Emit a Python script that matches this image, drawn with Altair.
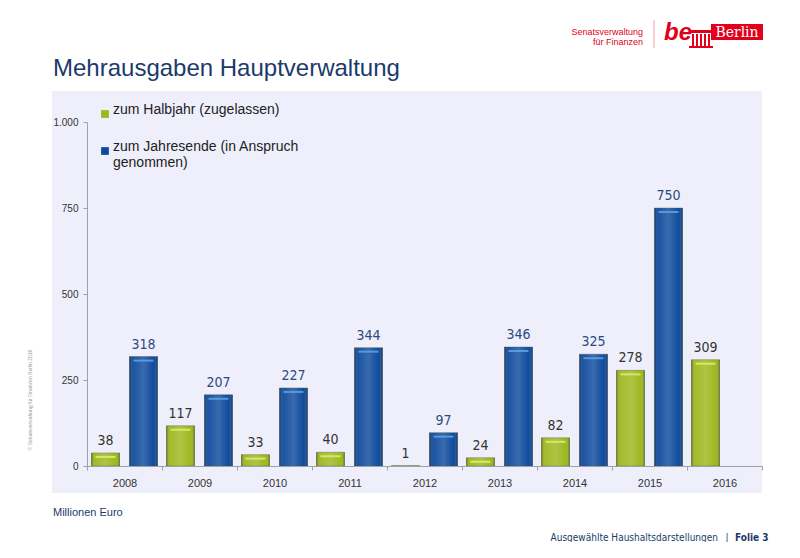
import altair as alt
import pandas as pd

years = ["2008", "2009", "2010", "2011", "2012", "2013", "2014", "2015", "2016"]
halbjahr = [38, 117, 33, 40, 1, 24, 82, 278, 309]
jahresende = [318, 207, 227, 344, 97, 346, 325, 750, None]
series_names = ["zum Halbjahr (zugelassen)", "zum Jahresende (in Anspruch genommen)"]
series_colors = ["#9db71e", "#0e4a9c"]
label_colors = ["#333333", "#2a4b80"]
y_ticks = [0, 250, 500, 750, 1000]

rows = []
for i, yr in enumerate(years):
    if halbjahr[i] is not None:
        rows.append({"Jahr": yr, "Reihe": series_names[0], "Wert": halbjahr[i]})
    if jahresende[i] is not None:
        rows.append({"Jahr": yr, "Reihe": series_names[1], "Wert": jahresende[i]})
df = pd.DataFrame(rows)

W, H = 675, 344
FONT = "Liberation Sans, Arial, sans-serif"
NARROW = "Liberation Sans Narrow, Arial Narrow, DejaVu Sans Condensed, Liberation Sans, Arial, sans-serif"

x_enc = alt.X("Jahr:N", sort=years, scale=alt.Scale(paddingInner=0, paddingOuter=0),
              axis=alt.Axis(title=None, labelAngle=0, tickBand="extent", domainColor="#a0a0a8",
                            tickColor="#a0a0a8", tickSize=4, labelFontSize=11, labelColor="#333333",
                            labelFont=FONT, labelPadding=7, zindex=1))
xo_enc = alt.XOffset("Reihe:N", sort=series_names,
                     scale=alt.Scale(domain=series_names, paddingInner=0.263, paddingOuter=0.118))
y_enc = alt.Y("Wert:Q", scale=alt.Scale(domain=[0, 1000], nice=False),
              axis=alt.Axis(title=None, values=y_ticks, grid=False, domainColor="#a0a0a8",
                            tickColor="#a0a0a8", tickSize=4, labelFontSize=10, labelColor="#333333",
                            labelFont=FONT, labelPadding=5, zindex=1,
                            labelExpr="replace(datum.label, ',', '.')"))

one = pd.DataFrame({"k": [0]})

panel = alt.Chart(one).mark_rect(color="#efeffb").encode(
    x=alt.value(-35), x2=alt.value(675), y=alt.value(-31), y2=alt.value(371))

bars = alt.Chart(df).mark_bar(stroke="#3a4a20", strokeWidth=0.6, strokeOpacity=0.6).encode(
    x=x_enc, xOffset=xo_enc, y=y_enc,
    color=alt.Color("Reihe:N", sort=series_names,
                    scale=alt.Scale(domain=series_names, range=series_colors),
                    legend=alt.Legend(title=None, orient="none", legendX=11, legendY=-15,
                                      symbolType="square", symbolSize=60, symbolStrokeWidth=0,
                                      labelFontSize=14, labelFont=FONT, labelColor="#222222",
                                      labelLimit=400, rowPadding=22, labelBaseline="alphabetic",
                                      labelOffset=1,
                                      labelExpr="datum.label == 'zum Jahresende (in Anspruch genommen)' ? ['zum Jahresende (in Anspruch', 'genommen)'] : datum.label")))

shade = alt.Chart(df).mark_bar(color=alt.Gradient(
    gradient="linear", x1=0, y1=0, x2=1, y2=0,
    stops=[alt.GradientStop(offset=0, color="rgba(0,0,0,0.40)"),
           alt.GradientStop(offset=0.12, color="rgba(255,255,255,0.05)"),
           alt.GradientStop(offset=0.5, color="rgba(255,255,255,0.18)"),
           alt.GradientStop(offset=0.88, color="rgba(255,255,255,0.0)"),
           alt.GradientStop(offset=1, color="rgba(0,0,0,0.40)")])).encode(
    x=x_enc, xOffset=xo_enc, y=y_enc)

highlight = alt.Chart(df).transform_filter(alt.datum.Wert >= 10).mark_tick(
    thickness=2, size=20, yOffset=4, opacity=0.9).encode(
    x=x_enc, xOffset=xo_enc, y=y_enc,
    color=alt.condition(alt.datum.Reihe == series_names[0], alt.value("#dcec6a"), alt.value("#5c9ee6")))

labels = alt.Chart(df).mark_text(baseline="bottom", dy=-5, fontSize=14, font=NARROW).encode(
    x=x_enc, xOffset=xo_enc, y=y_enc, text=alt.Text("Wert:Q"),
    color=alt.condition(alt.datum.Reihe == series_names[0], alt.value(label_colors[0]), alt.value(label_colors[1])))

def txt(text, x, y, **kw):
    return alt.Chart(one).mark_text(text=text, **kw).encode(x=alt.value(x), y=alt.value(y))

def box(x, x2, y, y2, color):
    return alt.Chart(one).mark_rect(color=color).encode(
        x=alt.value(x), x2=alt.value(x2), y=alt.value(y), y2=alt.value(y2))

title = txt("Mehrausgaben Hauptverwaltung", -34, -46, align="left", baseline="alphabetic",
            fontSize=24, font=FONT, color="#1b3a6b")
unit = txt("Millionen Euro", -34, 394, align="left", baseline="alphabetic",
           fontSize=11, font=FONT, color="#1b3a6b")
footer1 = txt("Ausgewählte Haushaltsdarstellungen", 631, 419, align="right", baseline="alphabetic",
              fontSize=10, font=NARROW, color="#1b3a6b")
footer2 = txt("|", 640, 419, align="center", baseline="alphabetic",
              fontSize=10, font=NARROW, color="#1b3a6b")
footer3 = txt("Folie 3", 648, 419, align="left", baseline="alphabetic",
              fontSize=10, font=NARROW, fontWeight="bold", color="#1b3a6b")
copyright_ = txt("© Senatsverwaltung für Finanzen Berlin 2016", -57, 278, angle=270,
                 align="center", baseline="middle", fontSize=5, font=FONT, color="#9a9aa8")

RED = "#e2001a"
logo1 = txt("Senatsverwaltung", 556, -87, align="right", baseline="alphabetic",
            fontSize=9, font=FONT, color=RED)
logo2 = txt("für Finanzen", 556, -77, align="right", baseline="alphabetic",
            fontSize=9, font=FONT, color=RED)
logo_sep = alt.Chart(one).mark_rule(color="#f0a0a8", strokeWidth=1).encode(
    x=alt.value(567), y=alt.value(-102), y2=alt.value(-74))
logo_be = txt("be", 577, -82, align="left", baseline="alphabetic", fontSize=24,
              font=FONT, fontWeight="bold", fontStyle="italic", color=RED)
logo_box = box(624, 676, -98, -82, RED)
logo_berlin = txt("Berlin", 650, -85, align="center", baseline="alphabetic", fontSize=14,
                  font="DejaVu Serif, serif", color="#ffffff")
logo_gate_top = box(604, 624, -92, -89, RED)
logo_gate_base = box(602, 626, -76, -74, RED)
gate_cols = [box(605 + 4 * i, 607 + 4 * i, -88, -76, RED) for i in range(5)]

chart = alt.layer(
    panel, bars, shade, highlight, labels,
    title, unit, footer1, footer2, footer3, copyright_,
    logo1, logo2, logo_sep, logo_be, logo_box, logo_berlin, logo_gate_top, logo_gate_base,
    *gate_cols
).properties(
    width=W, height=H,
    autosize=alt.AutoSizeParams(type="none"),
    padding={"left": 79, "top": 114, "right": 30, "bottom": 76},
    background="#ffffff"
).configure_view(stroke=None)

chart.save("out.html", embed_options={"renderer": "svg", "actions": False})
